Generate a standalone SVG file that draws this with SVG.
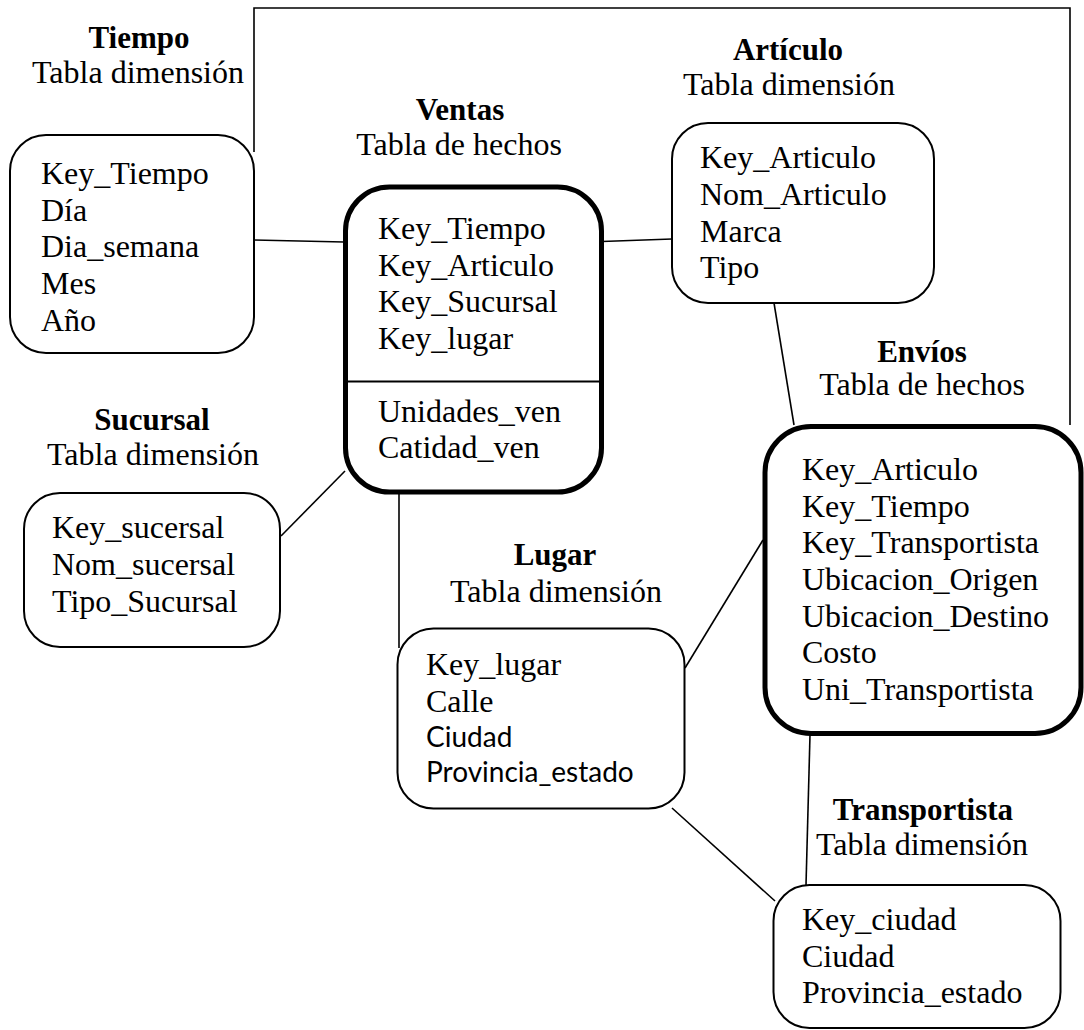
<svg xmlns="http://www.w3.org/2000/svg" width="1084" height="1030" viewBox="0 0 1084 1030">
  <style>
    .box { fill: #ffffff; stroke: #000000; stroke-width: 2; }
    .fact { fill: #ffffff; stroke: #000000; stroke-width: 5; }
    .link { fill: none; stroke: #000000; stroke-width: 1.6; }
    .t { font-family: "Liberation Serif", "Times New Roman", serif; font-size: 32px; fill: #000000; }
    .h { font-family: "Liberation Serif", "Times New Roman", serif; font-size: 31px; font-weight: bold; fill: #000000; text-anchor: middle; }
    .s { font-family: "Liberation Serif", "Times New Roman", serif; font-size: 32px; fill: #000000; text-anchor: middle; }
    .sans { font-family: Lato, "Open Sans", "Liberation Sans", sans-serif; font-size: 28px; fill: #000000; }
  </style>
  <rect width="1084" height="1030" fill="#ffffff"/>

  <!-- connectors -->
  <g id="connectors">
    <polyline class="link" points="254,152 254,8 1070,8 1070,425"/>
    <line class="link" x1="254" y1="240" x2="344" y2="242"/>
    <line class="link" x1="588" y1="242" x2="672" y2="239"/>
    <line class="link" x1="774" y1="303" x2="794" y2="425"/>
    <line class="link" x1="281" y1="536" x2="345" y2="471"/>
    <line class="link" x1="399" y1="492" x2="399" y2="648"/>
    <line class="link" x1="685" y1="668" x2="763" y2="540"/>
    <line class="link" x1="810" y1="735" x2="806" y2="885"/>
    <line class="link" x1="672" y1="808" x2="775" y2="901"/>
  </g>

  <!-- Tiempo -->
  <g id="tiempo">
    <text class="h" x="139" y="48">Tiempo</text>
    <text class="s" x="138" y="83">Tabla dimensión</text>
    <rect class="box" x="10" y="135" width="244" height="218" rx="36" ry="36"/>
    <text class="t" x="41" y="184">Key_Tiempo</text>
    <text class="t" x="41" y="221">Día</text>
    <text class="t" x="41" y="257">Dia_semana</text>
    <text class="t" x="41" y="294">Mes</text>
    <text class="t" x="41" y="331">Año</text>
  </g>

  <!-- Ventas -->
  <g id="ventas">
    <text class="h" x="460" y="120">Ventas</text>
    <text class="s" x="459" y="155">Tabla de hechos</text>
    <rect class="fact" x="345.5" y="187" width="256" height="305" rx="44" ry="44"/>
    <line x1="346" y1="381.5" x2="601" y2="381.5" stroke="#000000" stroke-width="2"/>
    <text class="t" x="378" y="239">Key_Tiempo</text>
    <text class="t" x="378" y="276">Key_Articulo</text>
    <text class="t" x="378" y="312">Key_Sucursal</text>
    <text class="t" x="378" y="349">Key_lugar</text>
    <text class="t" x="378" y="422">Unidades_ven</text>
    <text class="t" x="378" y="458">Catidad_ven</text>
  </g>

  <!-- Artículo -->
  <g id="articulo">
    <text class="h" x="788" y="60">Artículo</text>
    <text class="s" x="789" y="95">Tabla dimensión</text>
    <rect class="box" x="672" y="123" width="262" height="180" rx="36" ry="36"/>
    <text class="t" x="700" y="168">Key_Articulo</text>
    <text class="t" x="700" y="205">Nom_Articulo</text>
    <text class="t" x="700" y="242">Marca</text>
    <text class="t" x="700" y="278">Tipo</text>
  </g>

  <!-- Envíos -->
  <g id="envios">
    <text class="h" x="922" y="362">Envíos</text>
    <text class="s" x="922" y="395">Tabla de hechos</text>
    <rect class="fact" x="765" y="426.5" width="316" height="307" rx="46" ry="46"/>
    <text class="t" x="802" y="480">Key_Articulo</text>
    <text class="t" x="802" y="517">Key_Tiempo</text>
    <text class="t" x="802" y="553">Key_Transportista</text>
    <text class="t" x="802" y="590">Ubicacion_Origen</text>
    <text class="t" x="802" y="627">Ubicacion_Destino</text>
    <text class="t" x="802" y="663">Costo</text>
    <text class="t" x="802" y="700">Uni_Transportista</text>
  </g>

  <!-- Sucursal -->
  <g id="sucursal">
    <text class="h" x="152" y="430">Sucursal</text>
    <text class="s" x="153" y="465">Tabla dimensión</text>
    <rect class="box" x="24" y="493" width="256" height="154" rx="36" ry="36"/>
    <text class="t" x="52" y="538">Key_sucersal</text>
    <text class="t" x="52" y="575">Nom_sucersal</text>
    <text class="t" x="52" y="612">Tipo_Sucursal</text>
  </g>

  <!-- Lugar -->
  <g id="lugar">
    <text class="h" x="555" y="565">Lugar</text>
    <text class="s" x="556" y="602">Tabla dimensión</text>
    <rect class="box" x="397.5" y="628.5" width="287" height="180" rx="36" ry="36"/>
    <text class="t" x="426" y="675">Key_lugar</text>
    <text class="t" x="426" y="712">Calle</text>
    <text class="sans" x="426" y="747">Ciudad</text>
    <text class="sans" x="426" y="782">Provincia_estado</text>
  </g>

  <!-- Transportista -->
  <g id="transportista">
    <text class="h" x="923" y="820">Transportista</text>
    <text class="s" x="922" y="855">Tabla dimensión</text>
    <rect class="box" x="773.5" y="885" width="287" height="143" rx="36" ry="36"/>
    <text class="t" x="802" y="930">Key_ciudad</text>
    <text class="t" x="802" y="967">Ciudad</text>
    <text class="t" x="802" y="1003">Provincia_estado</text>
  </g>
</svg>
